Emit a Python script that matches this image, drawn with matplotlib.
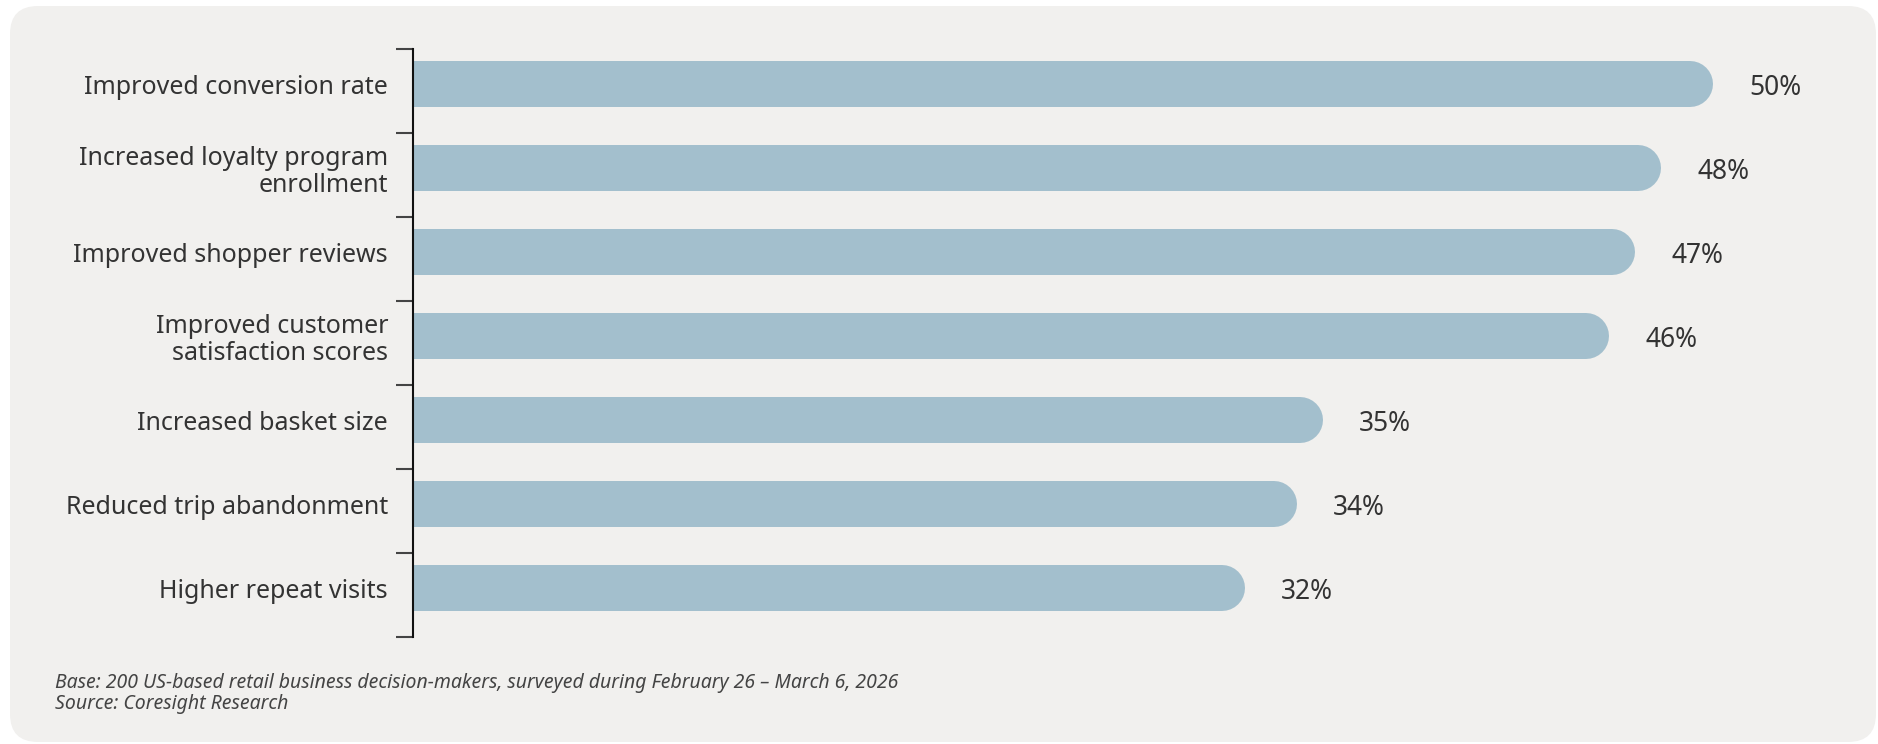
import numpy as np
import matplotlib
matplotlib.use('Agg')
import matplotlib.pyplot as plt
from matplotlib.patches import FancyBboxPatch
from matplotlib.ticker import FixedLocator

categories = ['Improved conversion rate',
              'Increased loyalty program\nenrollment',
              'Improved shopper reviews',
              'Improved customer\nsatisfaction scores',
              'Increased basket size',
              'Reduced trip abandonment',
              'Higher repeat visits']
values = [50, 48, 47, 46, 35, 34, 32]
value_labels = ['50%', '48%', '47%', '46%', '35%', '34%', '32%']

footnotes = ['Base: 200 US-based retail business decision-makers, surveyed during '
             'February 26 \u2013 March 6, 2026',
             'Source: Coresight Research']

BAR_COLOR = '#a3bfcd'
PANEL_COLOR = '#f1f0ee'
TEXT_COLOR = '#333333'
FONT = ['Noto Sans', 'DejaVu Sans']

W, H, DPI = 1878, 744, 100
PX_PER_UNIT = 26.0

plt.rcParams['font.family'] = FONT

fig = plt.figure(figsize=(W / DPI, H / DPI), dpi=DPI)
fig.patch.set_facecolor('white')

# rounded grey panel behind everything (inches)
panel = FancyBboxPatch((10 / DPI, 2 / DPI), (1876 - 10) / DPI, (742 - 6) / DPI,
                       boxstyle='round,pad=0,rounding_size=0.28',
                       transform=fig.dpi_scale_trans, facecolor=PANEL_COLOR,
                       edgecolor='none', zorder=-5)
fig.patches.append(panel)

# axes: spine at x=413 px, band from y=49 to y=637 px
ax_left, ax_right = 413, 1860
ax_top, ax_bottom = 49, 637
ax = fig.add_axes([ax_left / W, 1 - ax_bottom / H,
                   (ax_right - ax_left) / W, (ax_bottom - ax_top) / H])
ax.set_facecolor('none')
ax.set_zorder(2)

n = len(categories)
y = np.arange(n)
offset = 7 / 84          # bars sit a bit above the middle of each band
bar_h = 46 / 84
ax.set_ylim(n - 0.5 + offset, -0.5 + offset)
ax.set_xlim(0, (ax_right - ax_left) / PX_PER_UNIT)

radius = 23 / PX_PER_UNIT
lw_pt = 46 * 72 / DPI
for yi, v in zip(y, values):
    ax.barh(yi, v - radius, height=bar_h, color=BAR_COLOR, left=0, zorder=2)
    ax.plot([v - 2 * radius, v - radius], [yi, yi], color=BAR_COLOR,
            lw=lw_pt, solid_capstyle='round', zorder=2)

for yi, v, lab in zip(y, values, value_labels):
    ax.annotate(lab, (v, yi), xytext=(26, 0), textcoords='offset points',
                va='center_baseline', ha='left', fontsize=19, color=TEXT_COLOR,
                fontweight='light')

for s in ['top', 'right', 'bottom']:
    ax.spines[s].set_visible(False)
ax.spines['left'].set_linewidth(1.5)
ax.spines['left'].set_color('#111111')

ax.set_xticks([])
ax.set_yticks(y)
ax.set_yticklabels(categories, fontsize=18, color=TEXT_COLOR, linespacing=1.1,
                   fontweight='light')
ax.tick_params(axis='y', which='major', length=0, pad=18)
ax.yaxis.set_minor_locator(FixedLocator(np.arange(n + 1) - 0.5 + offset))
ax.tick_params(axis='y', which='minor', length=12, width=1.5, color='#444444')

for i, line in enumerate(footnotes):
    fig.text(55 / W, 1 - (683 + 21 * i) / H, line, fontsize=14, style='italic',
             color='#444444', va='center', ha='left', fontweight='light')

fig.savefig('out.png', dpi=DPI, facecolor='white')
